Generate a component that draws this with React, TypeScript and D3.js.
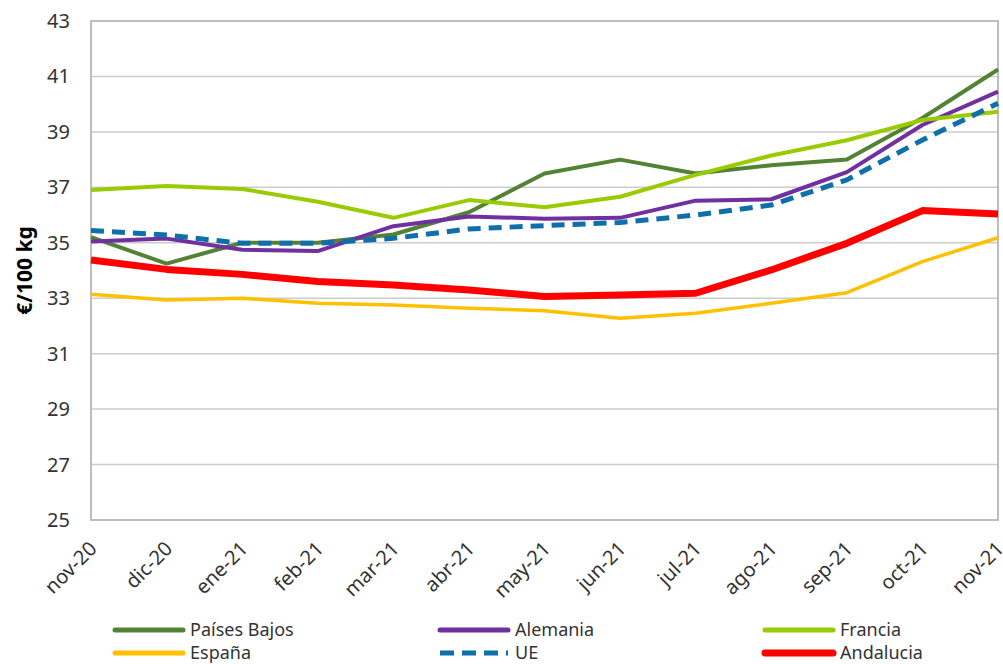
import React, { useEffect, useRef } from "react";
import * as d3 from "d3";

const months = [
  "nov-20", "dic-20", "ene-21", "feb-21", "mar-21", "abr-21", "may-21",
  "jun-21", "jul-21", "ago-21", "sep-21", "oct-21", "nov-21",
];

const paisesBajos = [35.2, 34.25, 35.0, 35.0, 35.3, 36.1, 37.5, 38.0, 37.5, 37.8, 38.0, 39.5, 41.25];
const alemania = [35.05, 35.15, 34.75, 34.7, 35.6, 35.95, 35.87, 35.9, 36.52, 36.57, 37.55, 39.25, 40.45];
const francia = [36.9, 37.05, 36.94, 36.48, 35.9, 36.54, 36.28, 36.66, 37.45, 38.15, 38.7, 39.43, 39.73];
const espana = [33.14, 32.94, 33.0, 32.82, 32.76, 32.64, 32.55, 32.28, 32.46, 32.82, 33.2, 34.32, 35.18];
const ue = [35.44, 35.28, 34.98, 34.98, 35.16, 35.5, 35.62, 35.73, 36.0, 36.36, 37.27, 38.71, 40.03];
const andalucia = [34.38, 34.04, 33.86, 33.6, 33.48, 33.3, 33.06, 33.12, 33.18, 34.02, 34.98, 36.16, 36.04];

const yTicks = [25, 27, 29, 31, 33, 35, 37, 39, 41, 43];

const series = [
  { name: "Países Bajos", values: paisesBajos, color: "#548235", width: 4, dash: null },
  { name: "Alemania", values: alemania, color: "#7030a0", width: 4, dash: null },
  { name: "Francia", values: francia, color: "#99cc00", width: 4, dash: null },
  { name: "España", values: espana, color: "#ffc000", width: 3.5, dash: null },
  { name: "UE", values: ue, color: "#0f6fab", width: 5, dash: "13,8" },
  { name: "Andalucia", values: andalucia, color: "#ff0000", width: 7, dash: null },
];

const font = "'Noto Sans', 'DejaVu Sans', sans-serif";

export default function App() {
  const ref = useRef<SVGSVGElement | null>(null);

  const width = 1003;
  const height = 664;
  const margin = { top: 21, right: 5, bottom: 144, left: 91 };

  useEffect(() => {
    const svg = d3.select(ref.current);
    svg.selectAll("*").remove();

    const x = d3
      .scalePoint()
      .domain(months)
      .range([margin.left, width - margin.right]);

    const y = d3
      .scaleLinear()
      .domain([25, 43])
      .range([height - margin.bottom, margin.top]);

    // grid lines
    svg
      .append("g")
      .selectAll("line")
      .data(yTicks)
      .enter()
      .append("line")
      .attr("x1", margin.left)
      .attr("x2", width - margin.right)
      .attr("y1", (d) => y(d))
      .attr("y2", (d) => y(d))
      .attr("stroke", "#cccccc")
      .attr("stroke-width", 1.5);

    // plot border
    svg
      .append("rect")
      .attr("x", margin.left)
      .attr("y", margin.top)
      .attr("width", width - margin.right - margin.left)
      .attr("height", height - margin.bottom - margin.top)
      .attr("fill", "none")
      .attr("stroke", "#bdbdbd")
      .attr("stroke-width", 2);

    // y tick labels
    svg
      .append("g")
      .selectAll("text")
      .data(yTicks)
      .enter()
      .append("text")
      .attr("x", 70)
      .attr("y", (d) => y(d))
      .attr("dy", "0.35em")
      .attr("text-anchor", "end")
      .style("font-family", font)
      .style("font-size", "20px")
      .style("fill", "#333")
      .text((d) => d);

    // x tick labels
    svg
      .append("g")
      .selectAll("text")
      .data(months)
      .enter()
      .append("text")
      .attr("text-anchor", "end")
      .attr("transform", (d) => `translate(${(x(d) as number) + 7}, ${height - margin.bottom + 30}) rotate(-45)`)
      .style("font-family", font)
      .style("font-size", "20px")
      .style("fill", "#333")
      .text((d) => d);

    // y axis title
    svg
      .append("text")
      .attr("transform", `translate(32, ${(margin.top + height - margin.bottom) / 2}) rotate(-90)`)
      .attr("text-anchor", "middle")
      .style("font-family", font)
      .style("font-size", "21px")
      .style("font-weight", "bold")
      .style("fill", "#000")
      .text("€/100 kg");

    const line = d3
      .line<number>()
      .x((_, i) => x(months[i]) as number)
      .y((d) => y(d));

    series.forEach((s) => {
      svg
        .append("path")
        .datum(s.values)
        .attr("d", line)
        .attr("fill", "none")
        .attr("stroke", s.color)
        .attr("stroke-width", s.width)
        .attr("stroke-linejoin", "round")
        .attr("stroke-dasharray", s.dash);
    });

    // legend
    const legendX = [115, 440, 765];
    const legendY = [630, 653];
    const legend = svg
      .append("g")
      .selectAll("g")
      .data(series)
      .enter()
      .append("g")
      .attr("transform", (_, i) => `translate(${legendX[i % 3]}, ${legendY[Math.floor(i / 3)]})`);

    legend
      .append("line")
      .attr("x1", 0)
      .attr("x2", 68)
      .attr("stroke", (d) => d.color)
      .attr("stroke-width", (d) => Math.max(d.width, 5))
      .attr("stroke-linecap", (d) => (d.dash ? "butt" : "round"))
      .attr("stroke-dasharray", (d) => (d.dash ? "14,8" : null));

    legend
      .append("text")
      .attr("x", 75)
      .attr("dy", "0.35em")
      .style("font-family", font)
      .style("font-size", "18px")
      .style("fill", "#333")
      .text((d) => d.name);
  }, []);

  return (
    <svg
      ref={ref}
      width={width}
      height={height}
      style={{ position: "absolute", left: 0, top: 0, background: "#fff" }}
    />
  );
}
